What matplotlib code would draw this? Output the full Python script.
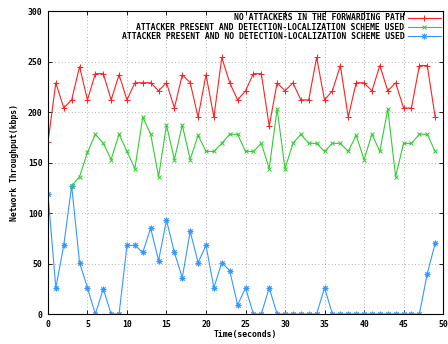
import numpy as np
import matplotlib
matplotlib.use('Agg')
import matplotlib.pyplot as plt

# время, с
t_all = list(range(0, 50))
t_green = list(range(3, 50))

no_attack = [170, 229, 204, 212, 245, 212, 238, 238, 212, 237,
             212, 229, 229, 229, 221, 229, 204, 237, 229, 195,
             237, 195, 254, 229, 212, 221, 238, 238, 186, 229,
             221, 229, 212, 212, 254, 212, 221, 246, 195, 229,
             229, 221, 246, 221, 229, 204, 204, 246, 246, 195]

# начинается с t=3
with_scheme = [127, 136, 160, 178, 169, 153, 178, 161, 144, 195,
               178, 136, 187, 153, 187, 153, 177, 161, 161, 169,
               178, 178, 161, 161, 169, 144, 203, 144, 169, 178,
               169, 169, 161, 169, 169, 161, 177, 153, 178, 161,
               203, 136, 169, 169, 178, 178, 161]

no_scheme = [119, 26, 68, 127, 51, 26, 0, 25, 0, 0,
             68, 68, 61, 85, 53, 93, 61, 36, 82, 51,
             68, 26, 51, 43, 9, 26, 0, 0, 26, 0,
             0, 0, 0, 0, 0, 26, 0, 0, 0, 0,
             0, 0, 0, 0, 0, 0, 0, 0, 40, 70]

labels = ['NO ATTACKERS IN THE FORWARDING PATH',
          'ATTACKER PRESENT AND DETECTION-LOCALIZATION SCHEME USED',
          'ATTACKER PRESENT AND NO DETECTION-LOCALIZATION SCHEME USED']

plt.rcParams['font.family'] = 'DejaVu Sans Mono'
plt.rcParams['font.weight'] = 'bold'
fs = 5.9

fig = plt.figure(figsize=(4.48, 3.44), dpi=100)
ax = fig.add_axes([0.107, 0.087, 0.882, 0.881])

ax.plot(t_all, no_scheme, color='#3399ff', lw=0.8, marker=(8, 2, 0), ms=4, mew=0.7, label=labels[2])
ax.plot(t_green, with_scheme, color='#33cc33', lw=0.8, marker='x', ms=3.5, mew=0.7, label=labels[1])
ax.plot(t_all, no_attack, color='#ff2020', lw=0.8, marker='+', ms=4.5, mew=0.7, label=labels[0])

ax.set_xlim(0, 50)
ax.set_ylim(0, 300)
ax.set_xticks(range(0, 51, 5))
ax.set_yticks(range(0, 301, 50))
ax.tick_params(direction='in', length=3, width=0.6, labelsize=fs, top=True, right=True, pad=4)
ax.grid(True, ls=(0, (1, 3)), color='#999999', lw=0.6)
for s in ax.spines.values():
    s.set_linewidth(0.8)

ax.set_xlabel('Time(seconds)', fontsize=fs, fontweight='bold', labelpad=1)
ax.set_ylabel('Network Throughput(kbps)', fontsize=fs, fontweight='bold', labelpad=6)

h, l = ax.get_legend_handles_labels()
ax.legend(h[::-1], l[::-1], loc='upper right', bbox_to_anchor=(1.0, 1.0), frameon=False,
          markerfirst=False, prop={'size': fs, 'weight': 'bold'}, handlelength=4,
          handletextpad=0.4, labelspacing=0.05, borderaxespad=0.1, borderpad=0.2)

fig.savefig('out.png', dpi=100)
